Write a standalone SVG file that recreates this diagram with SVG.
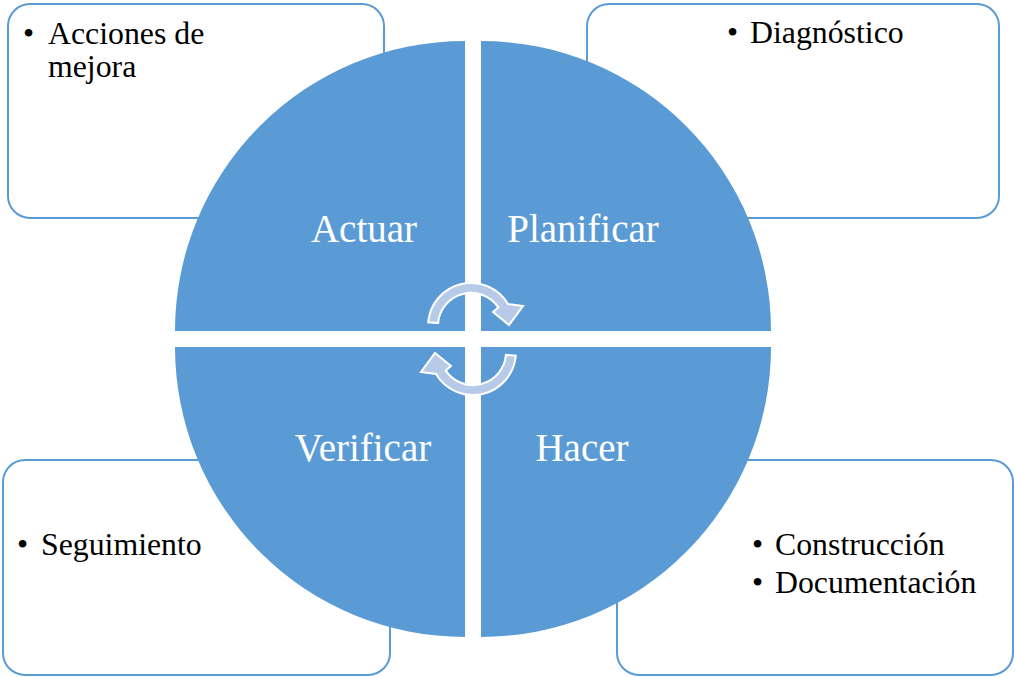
<svg xmlns="http://www.w3.org/2000/svg" width="1015" height="677" viewBox="0 0 1015 677">
  <style>
    .box { fill: #FFFFFF; stroke: #5B9BD5; stroke-width: 2; }
    .quad { fill: #5B9BD5; }
    .btxt { font-family: "Liberation Serif", "Times New Roman", serif; font-size: 31.8px; fill: #000000; }
    .qtxt { font-family: "Liberation Serif", "Times New Roman", serif; font-size: 39px; fill: #FFFFFF; text-anchor: middle; }
    .arrow { fill: #B7CBE8; stroke: #FFFFFF; stroke-width: 2; stroke-linejoin: miter; }
  </style>
  <rect x="0" y="0" width="1015" height="677" fill="#FFFFFF"/>

  <g id="box-actuar">
    <rect class="box" x="8" y="4" width="376" height="214" rx="22" ry="22"/>
    <text class="btxt" x="23" y="44">•</text>
    <text class="btxt" x="48" y="44">Acciones de</text>
    <text class="btxt" x="48" y="77">mejora</text>
  </g>
  <g id="box-planificar">
    <rect class="box" x="587" y="4" width="412" height="214" rx="22" ry="22"/>
    <text class="btxt" x="727" y="43">•</text>
    <text class="btxt" x="750" y="43">Diagnóstico</text>
  </g>
  <g id="box-verificar">
    <rect class="box" x="3" y="460" width="387" height="215" rx="22" ry="22"/>
    <text class="btxt" x="17" y="555">•</text>
    <text class="btxt" x="41" y="555">Seguimiento</text>
  </g>
  <g id="box-hacer">
    <rect class="box" x="617" y="460" width="396" height="215" rx="22" ry="22"/>
    <text class="btxt" x="752" y="555">•</text>
    <text class="btxt" x="775" y="555">Construcción</text>
    <text class="btxt" x="752" y="593">•</text>
    <text class="btxt" x="775" y="593">Documentación</text>
  </g>

  <g id="quad-actuar">
    <path class="quad" d="M 465 331 L 175 331 A 290 290 0 0 1 465 41 Z"/>
    <text class="qtxt" x="364" y="242">Actuar</text>
  </g>
  <g id="quad-planificar">
    <path class="quad" d="M 481 331 L 481 41 A 290 290 0 0 1 771 331 Z"/>
    <text class="qtxt" x="583" y="242">Planificar</text>
  </g>
  <g id="quad-hacer">
    <path class="quad" d="M 481 347 L 771 347 A 290 290 0 0 1 481 637 Z"/>
    <text class="qtxt" x="582" y="461">Hacer</text>
  </g>
  <g id="quad-verificar">
    <path class="quad" d="M 465 347 L 465 637 A 290 290 0 0 1 175 347 Z"/>
    <text class="qtxt" x="363" y="461">Verificar</text>
  </g>

  <g id="connectors">
    <path class="arrow" d="M 428.2 322.3 A 43 43 0 0 1 508 304 L 523 306 L 509 325 L 493 312 L 498.3 307.4 A 33 33 0 0 0 438.1 323.1 Z"/>
    <path class="arrow" d="M 515.8 355.7 A 43 43 0 0 1 436 374 L 421 372 L 435 353 L 451 366 L 445.7 370.6 A 33 33 0 0 0 505.9 354.9 Z"/>
  </g>
</svg>
